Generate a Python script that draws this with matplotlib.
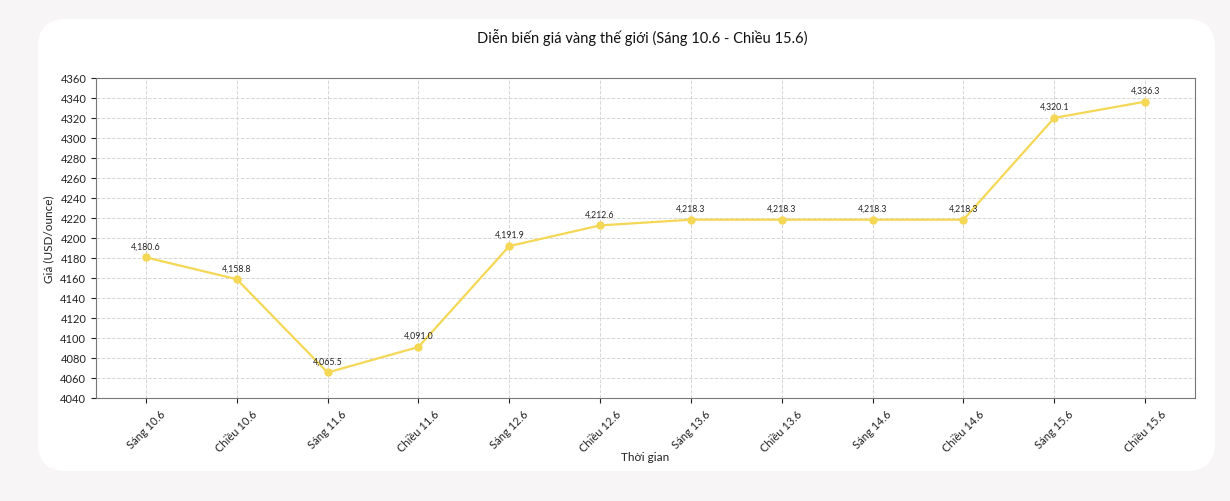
import matplotlib.pyplot as plt
from matplotlib.patches import FancyBboxPatch
from matplotlib.transforms import IdentityTransform

labels = ['Sáng 10.6', 'Chiều 10.6', 'Sáng 11.6', 'Chiều 11.6', 'Sáng 12.6', 'Chiều 12.6',
          'Sáng 13.6', 'Chiều 13.6', 'Sáng 14.6', 'Chiều 14.6', 'Sáng 15.6', 'Chiều 15.6']
prices = [4180.6, 4158.8, 4065.5, 4091.0, 4191.9, 4212.6,
          4218.3, 4218.3, 4218.3, 4218.3, 4320.1, 4336.3]
y_ticks = list(range(4040, 4361, 20))

plt.rcParams['font.family'] = ['Lato', 'DejaVu Sans']

fig = plt.figure(figsize=(12.3, 5.02), dpi=100)
fig.patch.set_facecolor('#f8f5f6')

# white rounded card behind the chart (pixel units)
card = FancyBboxPatch((38, 502 - 472), 1215 - 38, 472 - 20,
                      boxstyle='round,pad=0,rounding_size=28', transform=IdentityTransform(),
                      facecolor='white', edgecolor='none', zorder=-5)
fig.patches.append(card)

ax = fig.add_axes([96 / 1230, 1 - 399 / 502, (1195 - 96) / 1230, (399 - 79) / 502])
ax.set_zorder(2)
ax.set_facecolor('white')

x = list(range(len(labels)))
ax.plot(x, prices, color='#f5d756', linewidth=1.6, marker='o', markersize=5, zorder=3)

for xi, p in zip(x, prices):
    ax.annotate(f'{p:,.1f}', (xi, p), xytext=(0, 5), textcoords='offset points',
                ha='center', va='bottom', fontsize=6.3, color='#222222')

ax.set_ylim(4040, 4360)
ax.set_yticks(y_ticks)
ax.set_xticks(x)
ax.set_xticklabels(labels, rotation=45)
ax.tick_params(axis='both', labelsize=8, colors='#222222', length=3.5)
ax.grid(True, linestyle='--', color='#d6d6d6', linewidth=0.7)
for s in ax.spines.values():
    s.set_color('#777777')

ax.set_xlabel('Thời gian', fontsize=8.5, color='#222222', labelpad=-2)
ax.set_ylabel('Giá (USD/ounce)', fontsize=8.5, color='#222222')
fig.text(0.522, 1 - 38 / 502, 'Diễn biến giá vàng thế giới (Sáng 10.6 - Chiều 15.6)',
         ha='center', va='center', fontsize=10.5, color='#111111')

fig.savefig('out.png', dpi=100, facecolor=fig.get_facecolor())
